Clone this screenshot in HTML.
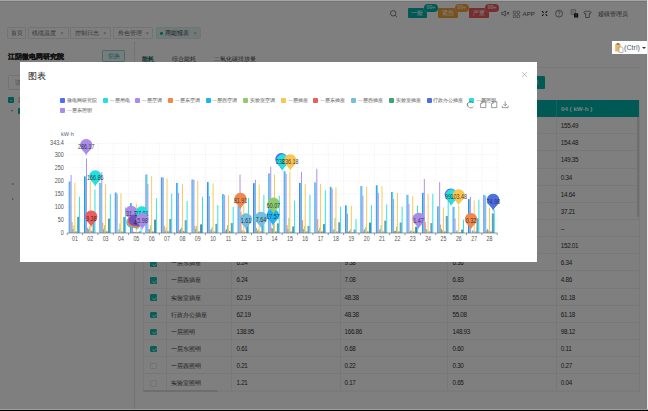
<!DOCTYPE html>
<html><head><meta charset="utf-8">
<style>
*{margin:0;padding:0;box-sizing:border-box}
html,body{width:648px;height:411px;overflow:hidden}
body{position:relative;background:#fff;font-family:"Liberation Sans",sans-serif;color:#333}
.abs{position:absolute}
#hdr{position:absolute;left:0;top:0;width:648px;height:42.9px;background:#fff;border-bottom:0.7px solid #e8e8e8}
.tab{position:absolute;top:27.2px;height:11.7px;border:0.6px solid #e6e6e6;border-radius:1px;font-size:6.1px;line-height:10.6px;color:#6a6a6a;white-space:nowrap;background:#fff}
.tab span{position:absolute;top:0}
.tab b{font-weight:normal;position:absolute;top:0;font-size:5px;color:#999}
.badge{position:absolute;top:8.2px;height:10.2px;width:19.5px;color:#fff;font-size:6.2px;line-height:10.4px;text-align:center;border-radius:1px}
.dot{position:absolute;top:4.4px;height:7.6px;width:14.4px;border-radius:3.8px;color:#fff;font-size:5.2px;line-height:7.2px;text-align:center;box-shadow:0 0 0 0.5px rgba(255,255,255,0.5)}
#left{position:absolute;left:1px;top:42.3px;width:133.8px;height:367px;background:#fff;border-right:0.7px solid #e4e4e4}
#right{position:absolute;left:135.5px;top:42.3px;width:506px;height:367px;background:#fff}
.tr{position:absolute;left:143px;width:496px;height:17.15px;border-bottom:0.6px solid #f0f0f0;font-size:6.2px;line-height:18.4px;color:#333}
.tr .cb{position:absolute;left:7.4px;top:5.85px;width:6.4px;height:6.4px;border:0.6px solid #e6e6e6;border-radius:1px;background:#fff}
.tr .cb.on{background:#12bcae;border-color:#12bcae}
.tr .cb.on::after{content:"";position:absolute;left:1.7px;top:0.6px;width:1.6px;height:3.2px;border:solid rgba(255,255,255,0.6);border-width:0 0.5px 0.5px 0;transform:rotate(45deg)}
.tr .nm{position:absolute;left:27.7px;top:0}
.tr .v{position:absolute;top:0;letter-spacing:-0.3px;font-size:6.3px}
.vl{position:absolute;width:0.6px;background:#f0f0f0}
#mask{position:absolute;left:0;top:0;width:648px;height:411px;background:rgba(0,0,0,0.5)}
#modal{position:absolute;left:20px;top:62px;width:517px;height:200px;background:#fff}
.lg{position:absolute;height:5px;white-space:nowrap;font-size:5.35px;line-height:5.2px;color:#555}
.lg i{position:absolute;left:0;top:0;width:5.2px;height:5px;border-radius:1px}
.lg span{position:absolute;left:6.9px;top:0}
</style></head><body>
<div id="hdr"></div>
<!-- header right -->
<svg class="abs" style="left:389px;top:9px" width="9" height="9" viewBox="0 0 9 9"><circle cx="4.2" cy="4.3" r="2.7" fill="none" stroke="#444" stroke-width="0.7"/><line x1="6.2" y1="6.3" x2="7.9" y2="8" stroke="#444" stroke-width="0.7"/></svg>
<div class="badge" style="left:407.6px;background:#00b3a9">一般</div>
<div class="dot" style="left:423.8px;background:#00b3a9">99+</div>
<div class="badge" style="left:438.3px;background:#f0a23a">紧急</div>
<div class="dot" style="left:454.5px;background:#f0a23a">99+</div>
<div class="badge" style="left:469.2px;background:#ea5a5a">严重</div>
<div class="dot" style="left:485px;background:#ea5a5a">99+</div>
<svg class="abs" style="left:500px;top:9px" width="11" height="9" viewBox="0 0 11 9"><path d="M1.8,3.4h1.5l2,-1.5v5.2l-2,-1.5H1.8z" fill="none" stroke="#555" stroke-width="0.7"/><path d="M6.6,2.9l2.6,2.9M9.2,2.9l-2.6,2.9" stroke="#555" stroke-width="0.7"/></svg>
<svg class="abs" style="left:512px;top:9.5px" width="9" height="8" viewBox="0 0 9 8"><rect x="1.3" y="1.2" width="2.6" height="2.6" rx="0.5" fill="none" stroke="#666" stroke-width="0.6"/><rect x="5.1" y="1.2" width="2.6" height="2.6" rx="0.5" fill="none" stroke="#666" stroke-width="0.6"/><rect x="1.3" y="5" width="2.6" height="2.6" rx="0.5" fill="none" stroke="#666" stroke-width="0.6"/><rect x="5.1" y="5" width="2.6" height="2.6" rx="0.5" fill="none" stroke="#666" stroke-width="0.6"/></svg>
<div class="abs" style="left:522.6px;top:9.2px;font-size:6.2px;line-height:9px;color:#555">APP</div>
<svg class="abs" style="left:540px;top:9px" width="9" height="9" viewBox="0 0 9 9"><path d="M2,2.2l1.6,1.6M7.2,2.2l-1.6,1.6M2,6.9l1.6,-1.6M7.2,6.9l-1.6,-1.6" stroke="#222" stroke-width="1.1"/></svg>
<svg class="abs" style="left:554px;top:9px" width="10" height="10" viewBox="0 0 10 10"><circle cx="5" cy="4.6" r="3.5" fill="none" stroke="#555" stroke-width="0.7"/><path d="M3.9,3.6c0,-1.4 2.2,-1.4 2.2,0c0,0.9 -1.1,0.8 -1.1,1.8" fill="none" stroke="#555" stroke-width="0.6"/><circle cx="5" cy="6.3" r="0.35" fill="#555"/></svg>
<svg class="abs" style="left:570px;top:8.5px" width="9" height="9" viewBox="0 0 9 9"><path d="M1,0.7h4.6v4.6H1z" fill="none" stroke="#777" stroke-width="0.6"/><path d="M1.9,2.2h2.8M1.9,3.6h2" stroke="#888" stroke-width="0.5"/><rect x="4" y="4.3" width="4.2" height="4.2" fill="#1a1a1a"/><path d="M5.2,7.8l0.9,-2.6l0.9,2.6" fill="none" stroke="#999" stroke-width="0.45"/></svg>
<svg class="abs" style="left:583px;top:9.5px" width="9" height="8" viewBox="0 0 9 8"><path d="M3,0.8l-2.2,1.4l1,1.7l0.9,-0.4v4h3.6v-4l0.9,0.4l1,-1.7l-2.2,-1.4c-0.5,1 -2.5,1 -3,0z" fill="none" stroke="#555" stroke-width="0.7"/></svg>
<div class="abs" style="left:597.7px;top:9.2px;font-size:6.1px;line-height:9px;color:#444;white-space:nowrap">超级管理员</div>
<!-- tabs -->
<div class="tab" style="left:6.6px;width:19.7px"><span style="left:3.4px">首页</span></div>
<div class="tab" style="left:28.1px;width:40.8px"><span style="left:3.4px">线缆温度</span><b style="left:31.4px">×</b></div>
<div class="tab" style="left:70.1px;width:40.8px"><span style="left:4.4px">控制日志</span><b style="left:32.2px">×</b></div>
<div class="tab" style="left:112.6px;width:40.8px"><span style="left:4.2px">角色管理</span><b style="left:32.2px">×</b></div>
<div class="tab" style="left:155.7px;width:45.2px;background:#e4f4f2;border-color:#d6eeeb"><i style="position:absolute;left:3.5px;top:4.3px;width:2.9px;height:2.9px;border-radius:50%;background:#00a99e"></i><span style="left:8px;color:#333">用能报表</span><b style="left:37.1px">×</b></div>
<div id="left"></div>
<div id="right"></div>
<div class="abs" style="left:8px;top:51.5px;font-size:7px;line-height:9px;font-weight:bold;color:#222;-webkit-text-stroke:0.15px #222;white-space:nowrap">江阴微电网研究院</div>
<div class="abs" style="left:102px;top:50px;width:23px;height:11.6px;border:0.7px solid #9ad9d3;background:#eef9f8;border-radius:1px;font-size:5.6px;line-height:10.2px;text-align:center;color:#2bb3a8">切换</div>
<div class="abs" style="left:7.5px;top:75.1px;width:118.5px;height:14.7px;border:0.6px solid #e6e6e6;border-radius:1.5px;font-size:6.6px;line-height:14px;color:#aaa;padding-left:6.6px">请输入</div>
<div class="abs" style="left:7.9px;top:97px;width:6.1px;height:6.1px;background:#00b3a9;border-radius:1px"></div><div class="abs" style="left:9.6px;top:99.7px;width:2.8px;height:0.7px;background:rgba(255,255,255,0.6)"></div><div class="abs" style="left:18.3px;top:96px;font-size:6.2px;line-height:8px;color:#333;white-space:nowrap">江阴微电网研究院</div>
<div class="abs" style="left:11px;top:110.3px;width:0;height:0;border-left:1.9px solid transparent;border-right:1.9px solid transparent;border-top:2.3px solid #888"></div>
<div class="abs" style="left:17.9px;top:108.3px;width:6px;height:6px;background:#00b3a9;border-radius:1px"></div>
<div class="abs" style="left:12px;top:183px;width:0;height:0;border-top:1.9px solid transparent;border-bottom:1.9px solid transparent;border-left:2.3px solid #999"></div>
<div class="abs" style="left:12px;top:197.6px;width:0;height:0;border-top:1.9px solid transparent;border-bottom:1.9px solid transparent;border-left:2.3px solid #999"></div>
<!-- right tabs -->
<div class="abs" style="left:142px;top:55px;font-size:6.3px;line-height:8px;font-weight:bold;color:#0d6b63;white-space:nowrap">能耗</div>
<div class="abs" style="left:171.5px;top:55px;font-size:6.3px;line-height:8px;color:#444;white-space:nowrap">综合能耗</div>
<div class="abs" style="left:213.5px;top:55px;font-size:6.3px;line-height:8px;color:#444;white-space:nowrap">二氧化碳排放量</div>
<div class="abs" style="left:520px;top:76px;width:25px;height:13px;background:#00b3a9;border-radius:1px;color:#fff;font-size:6px;line-height:13px;padding-left:7px">导出</div>
<div class="abs" style="left:137px;top:67.2px;width:503px;height:0.7px;background:#ececec"></div>
<!-- table -->
<div class="abs" style="left:143px;top:99.5px;width:496px;height:17.1px;background:#00b3a9"></div>
<div class="abs" style="left:555.6px;top:99.5px;width:0.6px;height:17.1px;background:#33c2ba"></div>
<div class="abs" style="left:561px;top:100px;font-size:6.2px;line-height:17.8px;font-weight:bold;color:#fff;white-space:nowrap">04 ( kW·h )</div>
<div class="tr" style="top:117.10px"><span class="cb on"></span><span class="nm">微电网研究院</span><span class="v" style="left:93.5px"></span><span class="v" style="left:201.5px"></span><span class="v" style="left:309.5px"></span><span class="v" style="left:417.79999999999995px">155.49</span></div><div class="tr" style="top:134.25px"><span class="cb on"></span><span class="nm">一层用电</span><span class="v" style="left:93.5px"></span><span class="v" style="left:201.5px"></span><span class="v" style="left:309.5px"></span><span class="v" style="left:417.79999999999995px">154.48</span></div><div class="tr" style="top:151.40px"><span class="cb on"></span><span class="nm">一层空调</span><span class="v" style="left:93.5px"></span><span class="v" style="left:201.5px"></span><span class="v" style="left:309.5px"></span><span class="v" style="left:417.79999999999995px">149.35</span></div><div class="tr" style="top:168.55px"><span class="cb on"></span><span class="nm">一层东空调</span><span class="v" style="left:93.5px"></span><span class="v" style="left:201.5px"></span><span class="v" style="left:309.5px"></span><span class="v" style="left:417.79999999999995px">0.34</span></div><div class="tr" style="top:185.70px"><span class="cb on"></span><span class="nm">一层西空调</span><span class="v" style="left:93.5px"></span><span class="v" style="left:201.5px"></span><span class="v" style="left:309.5px"></span><span class="v" style="left:417.79999999999995px">14.64</span></div><div class="tr" style="top:202.85px"><span class="cb on"></span><span class="nm">实验室空调</span><span class="v" style="left:93.5px"></span><span class="v" style="left:201.5px"></span><span class="v" style="left:309.5px"></span><span class="v" style="left:417.79999999999995px">37.21</span></div><div class="tr" style="top:220.00px"><span class="cb"></span><span class="nm">二层空调</span><span class="v" style="left:93.5px"></span><span class="v" style="left:201.5px"></span><span class="v" style="left:309.5px"></span><span class="v" style="left:417.79999999999995px">--</span></div><div class="tr" style="top:237.15px"><span class="cb on"></span><span class="nm">一层插座</span><span class="v" style="left:93.5px"></span><span class="v" style="left:201.5px"></span><span class="v" style="left:309.5px"></span><span class="v" style="left:417.79999999999995px">152.01</span></div><div class="tr" style="top:254.30px"><span class="cb on"></span><span class="nm">一层东插座</span><span class="v" style="left:93.5px">6.24</span><span class="v" style="left:201.5px">9.38</span><span class="v" style="left:309.5px">6.36</span><span class="v" style="left:417.79999999999995px">6.34</span></div><div class="tr" style="top:271.45px"><span class="cb on"></span><span class="nm">一层西插座</span><span class="v" style="left:93.5px">6.24</span><span class="v" style="left:201.5px">7.08</span><span class="v" style="left:309.5px">6.83</span><span class="v" style="left:417.79999999999995px">4.86</span></div><div class="tr" style="top:288.60px"><span class="cb on"></span><span class="nm">实验室插座</span><span class="v" style="left:93.5px">62.19</span><span class="v" style="left:201.5px">48.38</span><span class="v" style="left:309.5px">55.08</span><span class="v" style="left:417.79999999999995px">61.18</span></div><div class="tr" style="top:305.75px"><span class="cb on"></span><span class="nm">行政办公插座</span><span class="v" style="left:93.5px">62.19</span><span class="v" style="left:201.5px">48.38</span><span class="v" style="left:309.5px">55.08</span><span class="v" style="left:417.79999999999995px">61.18</span></div><div class="tr" style="top:322.90px"><span class="cb on"></span><span class="nm">一层照明</span><span class="v" style="left:93.5px">138.95</span><span class="v" style="left:201.5px">166.86</span><span class="v" style="left:309.5px">148.93</span><span class="v" style="left:417.79999999999995px">98.12</span></div><div class="tr" style="top:340.05px"><span class="cb on"></span><span class="nm">一层东照明</span><span class="v" style="left:93.5px">0.61</span><span class="v" style="left:201.5px">0.68</span><span class="v" style="left:309.5px">0.60</span><span class="v" style="left:417.79999999999995px">0.11</span></div><div class="tr" style="top:357.20px"><span class="cb"></span><span class="nm">一层西照明</span><span class="v" style="left:93.5px">0.21</span><span class="v" style="left:201.5px">0.22</span><span class="v" style="left:309.5px">0.30</span><span class="v" style="left:417.79999999999995px">0.27</span></div><div class="tr" style="top:374.35px"><span class="cb"></span><span class="nm">实验室照明</span><span class="v" style="left:93.5px">1.21</span><span class="v" style="left:201.5px">0.17</span><span class="v" style="left:309.5px">0.65</span><span class="v" style="left:417.79999999999995px">0.04</span></div>
<div class="vl" style="left:142.6px;top:116.5px;height:274px"></div>
<div class="vl" style="left:166.3px;top:116.5px;height:274px"></div>
<div class="vl" style="left:231.2px;top:116.5px;height:274px"></div>
<div class="vl" style="left:339.6px;top:116.5px;height:274px"></div>
<div class="vl" style="left:447px;top:116.5px;height:274px"></div>
<div class="vl" style="left:556px;top:116.5px;height:274px"></div>
<div class="vl" style="left:639px;top:100px;height:292px"></div>
<div class="abs" style="left:637px;top:117px;width:2px;height:100px;background:#ddd"></div>
<div class="abs" style="left:143px;top:389.6px;width:496px;height:2.2px;background:#f6f6f6"></div>
<div class="abs" style="left:142.5px;top:389.6px;width:75.5px;height:2.2px;background:#dcdcdc;border-radius:1px"></div>
<div id="mask"></div>
<div id="modal">
<div class="abs" style="left:8.3px;top:9px;font-size:8.5px;line-height:10px;color:#222;white-space:nowrap">图表</div>
<svg class="abs" style="left:500px;top:8px" width="9" height="9" viewBox="500 8 9 9"><path d="M502.1,10.1l4.8,4.8M506.9,10.1l-4.8,4.8" stroke="#8a8a8a" stroke-width="0.55"/></svg>
</div>
<svg class="abs" style="left:0;top:0" width="648" height="411" viewBox="0 0 648 411" font-family="Liberation Sans, sans-serif">
<line x1="67.2" y1="143.40" x2="497.2" y2="143.40" stroke="#e9e9e9" stroke-width="0.6" stroke-dasharray="1.3,1.3"/>
<line x1="67.2" y1="154.72" x2="497.2" y2="154.72" stroke="#e9e9e9" stroke-width="0.6" stroke-dasharray="1.3,1.3"/>
<line x1="67.2" y1="167.77" x2="497.2" y2="167.77" stroke="#e9e9e9" stroke-width="0.6" stroke-dasharray="1.3,1.3"/>
<line x1="67.2" y1="180.82" x2="497.2" y2="180.82" stroke="#e9e9e9" stroke-width="0.6" stroke-dasharray="1.3,1.3"/>
<line x1="67.2" y1="193.86" x2="497.2" y2="193.86" stroke="#e9e9e9" stroke-width="0.6" stroke-dasharray="1.3,1.3"/>
<line x1="67.2" y1="206.91" x2="497.2" y2="206.91" stroke="#e9e9e9" stroke-width="0.6" stroke-dasharray="1.3,1.3"/>
<line x1="67.2" y1="219.95" x2="497.2" y2="219.95" stroke="#e9e9e9" stroke-width="0.6" stroke-dasharray="1.3,1.3"/>
<line x1="82.56" y1="143.4" x2="82.56" y2="233.0" stroke="#e9e9e9" stroke-width="0.6" stroke-dasharray="1.3,1.3"/>
<line x1="97.91" y1="143.4" x2="97.91" y2="233.0" stroke="#e9e9e9" stroke-width="0.6" stroke-dasharray="1.3,1.3"/>
<line x1="113.27" y1="143.4" x2="113.27" y2="233.0" stroke="#e9e9e9" stroke-width="0.6" stroke-dasharray="1.3,1.3"/>
<line x1="128.63" y1="143.4" x2="128.63" y2="233.0" stroke="#e9e9e9" stroke-width="0.6" stroke-dasharray="1.3,1.3"/>
<line x1="143.99" y1="143.4" x2="143.99" y2="233.0" stroke="#e9e9e9" stroke-width="0.6" stroke-dasharray="1.3,1.3"/>
<line x1="159.34" y1="143.4" x2="159.34" y2="233.0" stroke="#e9e9e9" stroke-width="0.6" stroke-dasharray="1.3,1.3"/>
<line x1="174.70" y1="143.4" x2="174.70" y2="233.0" stroke="#e9e9e9" stroke-width="0.6" stroke-dasharray="1.3,1.3"/>
<line x1="190.06" y1="143.4" x2="190.06" y2="233.0" stroke="#e9e9e9" stroke-width="0.6" stroke-dasharray="1.3,1.3"/>
<line x1="205.41" y1="143.4" x2="205.41" y2="233.0" stroke="#e9e9e9" stroke-width="0.6" stroke-dasharray="1.3,1.3"/>
<line x1="220.77" y1="143.4" x2="220.77" y2="233.0" stroke="#e9e9e9" stroke-width="0.6" stroke-dasharray="1.3,1.3"/>
<line x1="236.13" y1="143.4" x2="236.13" y2="233.0" stroke="#e9e9e9" stroke-width="0.6" stroke-dasharray="1.3,1.3"/>
<line x1="251.49" y1="143.4" x2="251.49" y2="233.0" stroke="#e9e9e9" stroke-width="0.6" stroke-dasharray="1.3,1.3"/>
<line x1="266.84" y1="143.4" x2="266.84" y2="233.0" stroke="#e9e9e9" stroke-width="0.6" stroke-dasharray="1.3,1.3"/>
<line x1="282.20" y1="143.4" x2="282.20" y2="233.0" stroke="#e9e9e9" stroke-width="0.6" stroke-dasharray="1.3,1.3"/>
<line x1="297.56" y1="143.4" x2="297.56" y2="233.0" stroke="#e9e9e9" stroke-width="0.6" stroke-dasharray="1.3,1.3"/>
<line x1="312.91" y1="143.4" x2="312.91" y2="233.0" stroke="#e9e9e9" stroke-width="0.6" stroke-dasharray="1.3,1.3"/>
<line x1="328.27" y1="143.4" x2="328.27" y2="233.0" stroke="#e9e9e9" stroke-width="0.6" stroke-dasharray="1.3,1.3"/>
<line x1="343.63" y1="143.4" x2="343.63" y2="233.0" stroke="#e9e9e9" stroke-width="0.6" stroke-dasharray="1.3,1.3"/>
<line x1="358.99" y1="143.4" x2="358.99" y2="233.0" stroke="#e9e9e9" stroke-width="0.6" stroke-dasharray="1.3,1.3"/>
<line x1="374.34" y1="143.4" x2="374.34" y2="233.0" stroke="#e9e9e9" stroke-width="0.6" stroke-dasharray="1.3,1.3"/>
<line x1="389.70" y1="143.4" x2="389.70" y2="233.0" stroke="#e9e9e9" stroke-width="0.6" stroke-dasharray="1.3,1.3"/>
<line x1="405.06" y1="143.4" x2="405.06" y2="233.0" stroke="#e9e9e9" stroke-width="0.6" stroke-dasharray="1.3,1.3"/>
<line x1="420.41" y1="143.4" x2="420.41" y2="233.0" stroke="#e9e9e9" stroke-width="0.6" stroke-dasharray="1.3,1.3"/>
<line x1="435.77" y1="143.4" x2="435.77" y2="233.0" stroke="#e9e9e9" stroke-width="0.6" stroke-dasharray="1.3,1.3"/>
<line x1="451.13" y1="143.4" x2="451.13" y2="233.0" stroke="#e9e9e9" stroke-width="0.6" stroke-dasharray="1.3,1.3"/>
<line x1="466.49" y1="143.4" x2="466.49" y2="233.0" stroke="#e9e9e9" stroke-width="0.6" stroke-dasharray="1.3,1.3"/>
<line x1="481.84" y1="143.4" x2="481.84" y2="233.0" stroke="#e9e9e9" stroke-width="0.6" stroke-dasharray="1.3,1.3"/>
<line x1="497.20" y1="143.4" x2="497.20" y2="233.0" stroke="#e9e9e9" stroke-width="0.6" stroke-dasharray="1.3,1.3"/>
<rect x="68.74" y="181.60" width="0.945" height="51.40" fill="#4b6ef5"/>
<rect x="69.68" y="181.60" width="0.945" height="51.40" fill="#22dede"/>
<rect x="70.63" y="175.08" width="0.945" height="57.92" fill="#a98bea"/>
<rect x="71.57" y="222.04" width="0.945" height="10.96" fill="#f0884e"/>
<rect x="72.52" y="229.09" width="0.945" height="3.91" fill="#1fb2f2"/>
<rect x="73.46" y="225.43" width="0.945" height="7.57" fill="#8fcc6e"/>
<rect x="74.41" y="182.90" width="0.945" height="50.10" fill="#fbc552"/>
<rect x="75.35" y="231.37" width="0.945" height="1.63" fill="#ec5d5d"/>
<rect x="76.30" y="231.37" width="0.945" height="1.63" fill="#73bde0"/>
<rect x="77.24" y="216.77" width="0.945" height="16.23" fill="#3ba56f"/>
<rect x="78.19" y="216.77" width="0.945" height="16.23" fill="#4e6de8"/>
<rect x="79.13" y="196.75" width="0.945" height="36.25" fill="#26e0e0"/>
<rect x="80.08" y="232.84" width="0.945" height="0.16" fill="#a98bea"/>
<rect x="84.09" y="176.38" width="0.945" height="56.62" fill="#4b6ef5"/>
<rect x="85.04" y="176.38" width="0.945" height="56.62" fill="#22dede"/>
<rect x="85.98" y="158.33" width="0.945" height="74.67" fill="#a98bea"/>
<rect x="86.93" y="227.78" width="0.945" height="5.22" fill="#f0884e"/>
<rect x="87.87" y="229.09" width="0.945" height="3.91" fill="#1fb2f2"/>
<rect x="88.82" y="226.48" width="0.945" height="6.52" fill="#8fcc6e"/>
<rect x="89.76" y="181.08" width="0.945" height="51.92" fill="#fbc552"/>
<rect x="90.71" y="230.55" width="0.945" height="2.45" fill="#ec5d5d"/>
<rect x="91.65" y="231.15" width="0.945" height="1.85" fill="#73bde0"/>
<rect x="92.60" y="220.38" width="0.945" height="12.62" fill="#3ba56f"/>
<rect x="93.54" y="220.38" width="0.945" height="12.62" fill="#4e6de8"/>
<rect x="94.49" y="189.46" width="0.945" height="43.54" fill="#26e0e0"/>
<rect x="95.43" y="232.82" width="0.945" height="0.18" fill="#a98bea"/>
<rect x="99.45" y="182.90" width="0.945" height="50.10" fill="#4b6ef5"/>
<rect x="100.40" y="182.90" width="0.945" height="50.10" fill="#22dede"/>
<rect x="101.34" y="172.21" width="0.945" height="60.79" fill="#a98bea"/>
<rect x="102.29" y="222.56" width="0.945" height="10.44" fill="#f0884e"/>
<rect x="103.23" y="229.09" width="0.945" height="3.91" fill="#1fb2f2"/>
<rect x="104.18" y="225.17" width="0.945" height="7.83" fill="#8fcc6e"/>
<rect x="105.12" y="184.21" width="0.945" height="48.79" fill="#fbc552"/>
<rect x="106.07" y="231.34" width="0.945" height="1.66" fill="#ec5d5d"/>
<rect x="107.01" y="231.22" width="0.945" height="1.78" fill="#73bde0"/>
<rect x="107.96" y="218.63" width="0.945" height="14.37" fill="#3ba56f"/>
<rect x="108.90" y="218.63" width="0.945" height="14.37" fill="#4e6de8"/>
<rect x="109.85" y="194.14" width="0.945" height="38.86" fill="#26e0e0"/>
<rect x="110.79" y="232.84" width="0.945" height="0.16" fill="#a98bea"/>
<rect x="114.81" y="192.56" width="0.945" height="40.44" fill="#4b6ef5"/>
<rect x="115.75" y="192.56" width="0.945" height="40.44" fill="#22dede"/>
<rect x="116.70" y="194.03" width="0.945" height="38.97" fill="#a98bea"/>
<rect x="117.64" y="232.91" width="0.945" height="0.09" fill="#f0884e"/>
<rect x="118.59" y="229.18" width="0.945" height="3.82" fill="#1fb2f2"/>
<rect x="119.53" y="223.29" width="0.945" height="9.71" fill="#8fcc6e"/>
<rect x="120.48" y="193.34" width="0.945" height="39.66" fill="#fbc552"/>
<rect x="121.42" y="231.35" width="0.945" height="1.65" fill="#ec5d5d"/>
<rect x="122.37" y="231.73" width="0.945" height="1.27" fill="#73bde0"/>
<rect x="123.31" y="217.04" width="0.945" height="15.96" fill="#3ba56f"/>
<rect x="124.26" y="217.04" width="0.945" height="15.96" fill="#4e6de8"/>
<rect x="125.20" y="207.40" width="0.945" height="25.60" fill="#26e0e0"/>
<rect x="126.15" y="232.97" width="0.945" height="0.03" fill="#a98bea"/>
<rect x="130.16" y="203.26" width="0.945" height="29.74" fill="#4b6ef5"/>
<rect x="131.11" y="203.26" width="0.945" height="29.74" fill="#22dede"/>
<rect x="132.05" y="222.56" width="0.945" height="10.44" fill="#a98bea"/>
<rect x="133.00" y="231.70" width="0.945" height="1.30" fill="#f0884e"/>
<rect x="133.94" y="231.96" width="0.945" height="1.04" fill="#1fb2f2"/>
<rect x="134.89" y="231.96" width="0.945" height="1.04" fill="#8fcc6e"/>
<rect x="135.83" y="203.52" width="0.945" height="29.48" fill="#fbc552"/>
<rect x="136.78" y="232.22" width="0.945" height="0.78" fill="#ec5d5d"/>
<rect x="137.72" y="232.22" width="0.945" height="0.78" fill="#73bde0"/>
<rect x="138.67" y="231.43" width="0.945" height="1.57" fill="#3ba56f"/>
<rect x="139.61" y="231.43" width="0.945" height="1.57" fill="#4e6de8"/>
<rect x="140.56" y="225.95" width="0.945" height="7.05" fill="#26e0e0"/>
<rect x="141.50" y="232.92" width="0.945" height="0.08" fill="#a98bea"/>
<rect x="145.52" y="174.55" width="0.945" height="58.45" fill="#4b6ef5"/>
<rect x="146.47" y="174.55" width="0.945" height="58.45" fill="#22dede"/>
<rect x="147.41" y="183.95" width="0.945" height="49.05" fill="#a98bea"/>
<rect x="148.36" y="229.09" width="0.945" height="3.91" fill="#f0884e"/>
<rect x="149.30" y="229.09" width="0.945" height="3.91" fill="#1fb2f2"/>
<rect x="150.25" y="225.17" width="0.945" height="7.83" fill="#8fcc6e"/>
<rect x="151.19" y="176.12" width="0.945" height="56.88" fill="#fbc552"/>
<rect x="152.14" y="231.43" width="0.945" height="1.57" fill="#ec5d5d"/>
<rect x="153.08" y="231.43" width="0.945" height="1.57" fill="#73bde0"/>
<rect x="154.03" y="219.69" width="0.945" height="13.31" fill="#3ba56f"/>
<rect x="154.97" y="219.69" width="0.945" height="13.31" fill="#4e6de8"/>
<rect x="155.92" y="198.30" width="0.945" height="34.70" fill="#26e0e0"/>
<rect x="156.86" y="232.87" width="0.945" height="0.13" fill="#a98bea"/>
<rect x="160.88" y="177.42" width="0.945" height="55.58" fill="#4b6ef5"/>
<rect x="161.82" y="177.42" width="0.945" height="55.58" fill="#22dede"/>
<rect x="162.77" y="177.42" width="0.945" height="55.58" fill="#a98bea"/>
<rect x="163.71" y="225.69" width="0.945" height="7.31" fill="#f0884e"/>
<rect x="164.66" y="230.39" width="0.945" height="2.61" fill="#1fb2f2"/>
<rect x="165.60" y="227.52" width="0.945" height="5.48" fill="#8fcc6e"/>
<rect x="166.55" y="178.47" width="0.945" height="54.53" fill="#fbc552"/>
<rect x="167.49" y="230.91" width="0.945" height="2.09" fill="#ec5d5d"/>
<rect x="168.44" y="231.43" width="0.945" height="1.57" fill="#73bde0"/>
<rect x="169.38" y="218.91" width="0.945" height="14.09" fill="#3ba56f"/>
<rect x="170.33" y="218.91" width="0.945" height="14.09" fill="#4e6de8"/>
<rect x="171.27" y="193.60" width="0.945" height="39.40" fill="#26e0e0"/>
<rect x="172.22" y="232.87" width="0.945" height="0.13" fill="#a98bea"/>
<rect x="176.24" y="182.90" width="0.945" height="50.10" fill="#4b6ef5"/>
<rect x="177.18" y="182.90" width="0.945" height="50.10" fill="#22dede"/>
<rect x="178.13" y="192.82" width="0.945" height="40.18" fill="#a98bea"/>
<rect x="179.07" y="230.39" width="0.945" height="2.61" fill="#f0884e"/>
<rect x="180.02" y="229.09" width="0.945" height="3.91" fill="#1fb2f2"/>
<rect x="180.96" y="227.52" width="0.945" height="5.48" fill="#8fcc6e"/>
<rect x="181.91" y="183.95" width="0.945" height="49.05" fill="#fbc552"/>
<rect x="182.85" y="230.91" width="0.945" height="2.09" fill="#ec5d5d"/>
<rect x="183.80" y="231.43" width="0.945" height="1.57" fill="#73bde0"/>
<rect x="184.74" y="220.21" width="0.945" height="12.79" fill="#3ba56f"/>
<rect x="185.69" y="220.21" width="0.945" height="12.79" fill="#4e6de8"/>
<rect x="186.63" y="200.91" width="0.945" height="32.09" fill="#26e0e0"/>
<rect x="187.58" y="232.87" width="0.945" height="0.13" fill="#a98bea"/>
<rect x="191.59" y="179.51" width="0.945" height="53.49" fill="#4b6ef5"/>
<rect x="192.54" y="179.51" width="0.945" height="53.49" fill="#22dede"/>
<rect x="193.48" y="179.77" width="0.945" height="53.23" fill="#a98bea"/>
<rect x="194.43" y="225.96" width="0.945" height="7.04" fill="#f0884e"/>
<rect x="195.37" y="228.83" width="0.945" height="4.17" fill="#1fb2f2"/>
<rect x="196.32" y="225.96" width="0.945" height="7.04" fill="#8fcc6e"/>
<rect x="197.26" y="180.82" width="0.945" height="52.18" fill="#fbc552"/>
<rect x="198.21" y="231.43" width="0.945" height="1.57" fill="#ec5d5d"/>
<rect x="199.15" y="231.43" width="0.945" height="1.57" fill="#73bde0"/>
<rect x="200.10" y="224.39" width="0.945" height="8.61" fill="#3ba56f"/>
<rect x="201.04" y="224.39" width="0.945" height="8.61" fill="#4e6de8"/>
<rect x="201.99" y="196.73" width="0.945" height="36.27" fill="#26e0e0"/>
<rect x="202.93" y="232.87" width="0.945" height="0.13" fill="#a98bea"/>
<rect x="206.95" y="182.12" width="0.945" height="50.88" fill="#4b6ef5"/>
<rect x="207.90" y="182.12" width="0.945" height="50.88" fill="#22dede"/>
<rect x="208.84" y="195.95" width="0.945" height="37.05" fill="#a98bea"/>
<rect x="209.79" y="230.39" width="0.945" height="2.61" fill="#f0884e"/>
<rect x="210.73" y="229.09" width="0.945" height="3.91" fill="#1fb2f2"/>
<rect x="211.68" y="227.26" width="0.945" height="5.74" fill="#8fcc6e"/>
<rect x="212.62" y="183.43" width="0.945" height="49.57" fill="#fbc552"/>
<rect x="213.57" y="231.43" width="0.945" height="1.57" fill="#ec5d5d"/>
<rect x="214.51" y="231.43" width="0.945" height="1.57" fill="#73bde0"/>
<rect x="215.46" y="223.87" width="0.945" height="9.13" fill="#3ba56f"/>
<rect x="216.40" y="223.87" width="0.945" height="9.13" fill="#4e6de8"/>
<rect x="217.35" y="205.08" width="0.945" height="27.92" fill="#26e0e0"/>
<rect x="218.29" y="232.87" width="0.945" height="0.13" fill="#a98bea"/>
<rect x="222.31" y="194.12" width="0.945" height="38.88" fill="#4b6ef5"/>
<rect x="223.25" y="194.12" width="0.945" height="38.88" fill="#22dede"/>
<rect x="224.20" y="195.17" width="0.945" height="37.83" fill="#a98bea"/>
<rect x="225.14" y="230.39" width="0.945" height="2.61" fill="#f0884e"/>
<rect x="226.09" y="229.09" width="0.945" height="3.91" fill="#1fb2f2"/>
<rect x="227.03" y="225.17" width="0.945" height="7.83" fill="#8fcc6e"/>
<rect x="227.98" y="195.17" width="0.945" height="37.83" fill="#fbc552"/>
<rect x="228.92" y="230.91" width="0.945" height="2.09" fill="#ec5d5d"/>
<rect x="229.87" y="231.43" width="0.945" height="1.57" fill="#73bde0"/>
<rect x="230.81" y="223.09" width="0.945" height="9.91" fill="#3ba56f"/>
<rect x="231.76" y="223.09" width="0.945" height="9.91" fill="#4e6de8"/>
<rect x="232.70" y="206.91" width="0.945" height="26.09" fill="#26e0e0"/>
<rect x="233.65" y="232.87" width="0.945" height="0.13" fill="#a98bea"/>
<rect x="237.66" y="205.60" width="0.945" height="27.40" fill="#4b6ef5"/>
<rect x="238.61" y="205.60" width="0.945" height="27.40" fill="#22dede"/>
<rect x="239.55" y="174.55" width="0.945" height="58.45" fill="#a98bea"/>
<rect x="240.50" y="211.63" width="0.945" height="21.37" fill="#f0884e"/>
<rect x="241.44" y="230.39" width="0.945" height="2.61" fill="#1fb2f2"/>
<rect x="242.39" y="230.39" width="0.945" height="2.61" fill="#8fcc6e"/>
<rect x="243.33" y="205.60" width="0.945" height="27.40" fill="#fbc552"/>
<rect x="244.28" y="231.43" width="0.945" height="1.57" fill="#ec5d5d"/>
<rect x="245.22" y="232.58" width="0.945" height="0.42" fill="#73bde0"/>
<rect x="246.17" y="225.17" width="0.945" height="7.83" fill="#3ba56f"/>
<rect x="247.11" y="225.17" width="0.945" height="7.83" fill="#4e6de8"/>
<rect x="248.06" y="198.04" width="0.945" height="34.96" fill="#26e0e0"/>
<rect x="249.00" y="232.87" width="0.945" height="0.13" fill="#a98bea"/>
<rect x="253.02" y="183.16" width="0.945" height="49.84" fill="#4b6ef5"/>
<rect x="253.97" y="183.16" width="0.945" height="49.84" fill="#22dede"/>
<rect x="254.91" y="179.77" width="0.945" height="53.23" fill="#a98bea"/>
<rect x="255.86" y="227.78" width="0.945" height="5.22" fill="#f0884e"/>
<rect x="256.80" y="230.39" width="0.945" height="2.61" fill="#1fb2f2"/>
<rect x="257.75" y="229.09" width="0.945" height="3.91" fill="#8fcc6e"/>
<rect x="258.69" y="184.47" width="0.945" height="48.53" fill="#fbc552"/>
<rect x="259.64" y="231.43" width="0.945" height="1.57" fill="#ec5d5d"/>
<rect x="260.58" y="231.01" width="0.945" height="1.99" fill="#73bde0"/>
<rect x="261.53" y="222.56" width="0.945" height="10.44" fill="#3ba56f"/>
<rect x="262.47" y="222.56" width="0.945" height="10.44" fill="#4e6de8"/>
<rect x="263.42" y="194.91" width="0.945" height="38.09" fill="#26e0e0"/>
<rect x="264.36" y="232.87" width="0.945" height="0.13" fill="#a98bea"/>
<rect x="268.38" y="173.51" width="0.945" height="59.49" fill="#4b6ef5"/>
<rect x="269.32" y="173.51" width="0.945" height="59.49" fill="#22dede"/>
<rect x="270.27" y="166.73" width="0.945" height="66.27" fill="#a98bea"/>
<rect x="271.21" y="227.78" width="0.945" height="5.22" fill="#f0884e"/>
<rect x="272.16" y="228.42" width="0.945" height="4.58" fill="#1fb2f2"/>
<rect x="273.10" y="217.33" width="0.945" height="15.67" fill="#8fcc6e"/>
<rect x="274.05" y="174.55" width="0.945" height="58.45" fill="#fbc552"/>
<rect x="274.99" y="231.43" width="0.945" height="1.57" fill="#ec5d5d"/>
<rect x="275.94" y="231.43" width="0.945" height="1.57" fill="#73bde0"/>
<rect x="276.88" y="223.35" width="0.945" height="9.65" fill="#3ba56f"/>
<rect x="277.83" y="223.35" width="0.945" height="9.65" fill="#4e6de8"/>
<rect x="278.77" y="195.69" width="0.945" height="37.31" fill="#26e0e0"/>
<rect x="279.72" y="232.87" width="0.945" height="0.13" fill="#a98bea"/>
<rect x="283.74" y="171.16" width="0.945" height="61.84" fill="#4b6ef5"/>
<rect x="284.68" y="171.16" width="0.945" height="61.84" fill="#22dede"/>
<rect x="285.63" y="174.03" width="0.945" height="58.97" fill="#a98bea"/>
<rect x="286.57" y="225.17" width="0.945" height="7.83" fill="#f0884e"/>
<rect x="287.52" y="229.09" width="0.945" height="3.91" fill="#1fb2f2"/>
<rect x="288.46" y="217.87" width="0.945" height="15.13" fill="#8fcc6e"/>
<rect x="289.41" y="171.68" width="0.945" height="61.32" fill="#fbc552"/>
<rect x="290.35" y="231.43" width="0.945" height="1.57" fill="#ec5d5d"/>
<rect x="291.30" y="231.43" width="0.945" height="1.57" fill="#73bde0"/>
<rect x="292.24" y="226.48" width="0.945" height="6.52" fill="#3ba56f"/>
<rect x="293.19" y="226.48" width="0.945" height="6.52" fill="#4e6de8"/>
<rect x="294.13" y="200.65" width="0.945" height="32.35" fill="#26e0e0"/>
<rect x="295.08" y="232.87" width="0.945" height="0.13" fill="#a98bea"/>
<rect x="299.09" y="182.90" width="0.945" height="50.10" fill="#4b6ef5"/>
<rect x="300.04" y="182.90" width="0.945" height="50.10" fill="#22dede"/>
<rect x="300.98" y="171.94" width="0.945" height="61.06" fill="#a98bea"/>
<rect x="301.93" y="220.21" width="0.945" height="12.79" fill="#f0884e"/>
<rect x="302.87" y="229.09" width="0.945" height="3.91" fill="#1fb2f2"/>
<rect x="303.82" y="225.96" width="0.945" height="7.04" fill="#8fcc6e"/>
<rect x="304.76" y="183.95" width="0.945" height="49.05" fill="#fbc552"/>
<rect x="305.71" y="231.43" width="0.945" height="1.57" fill="#ec5d5d"/>
<rect x="306.65" y="231.43" width="0.945" height="1.57" fill="#73bde0"/>
<rect x="307.60" y="225.96" width="0.945" height="7.04" fill="#3ba56f"/>
<rect x="308.54" y="225.96" width="0.945" height="7.04" fill="#4e6de8"/>
<rect x="309.49" y="194.91" width="0.945" height="38.09" fill="#26e0e0"/>
<rect x="310.43" y="232.87" width="0.945" height="0.13" fill="#a98bea"/>
<rect x="314.45" y="182.38" width="0.945" height="50.62" fill="#4b6ef5"/>
<rect x="315.40" y="182.38" width="0.945" height="50.62" fill="#22dede"/>
<rect x="316.34" y="168.81" width="0.945" height="64.19" fill="#a98bea"/>
<rect x="317.29" y="219.17" width="0.945" height="13.83" fill="#f0884e"/>
<rect x="318.23" y="230.39" width="0.945" height="2.61" fill="#1fb2f2"/>
<rect x="319.18" y="227.78" width="0.945" height="5.22" fill="#8fcc6e"/>
<rect x="320.12" y="183.95" width="0.945" height="49.05" fill="#fbc552"/>
<rect x="321.07" y="231.43" width="0.945" height="1.57" fill="#ec5d5d"/>
<rect x="322.01" y="231.43" width="0.945" height="1.57" fill="#73bde0"/>
<rect x="322.96" y="224.13" width="0.945" height="8.87" fill="#3ba56f"/>
<rect x="323.90" y="224.13" width="0.945" height="8.87" fill="#4e6de8"/>
<rect x="324.85" y="190.21" width="0.945" height="42.79" fill="#26e0e0"/>
<rect x="325.79" y="232.87" width="0.945" height="0.13" fill="#a98bea"/>
<rect x="329.81" y="186.82" width="0.945" height="46.18" fill="#4b6ef5"/>
<rect x="330.75" y="186.82" width="0.945" height="46.18" fill="#22dede"/>
<rect x="331.70" y="188.64" width="0.945" height="44.36" fill="#a98bea"/>
<rect x="332.64" y="230.39" width="0.945" height="2.61" fill="#f0884e"/>
<rect x="333.59" y="229.09" width="0.945" height="3.91" fill="#1fb2f2"/>
<rect x="334.53" y="217.87" width="0.945" height="15.13" fill="#8fcc6e"/>
<rect x="335.48" y="187.34" width="0.945" height="45.66" fill="#fbc552"/>
<rect x="336.42" y="231.43" width="0.945" height="1.57" fill="#ec5d5d"/>
<rect x="337.37" y="231.43" width="0.945" height="1.57" fill="#73bde0"/>
<rect x="338.31" y="222.30" width="0.945" height="10.70" fill="#3ba56f"/>
<rect x="339.26" y="222.30" width="0.945" height="10.70" fill="#4e6de8"/>
<rect x="340.20" y="206.91" width="0.945" height="26.09" fill="#26e0e0"/>
<rect x="341.15" y="232.87" width="0.945" height="0.13" fill="#a98bea"/>
<rect x="345.16" y="205.34" width="0.945" height="27.66" fill="#4b6ef5"/>
<rect x="346.11" y="205.34" width="0.945" height="27.66" fill="#22dede"/>
<rect x="347.05" y="213.69" width="0.945" height="19.31" fill="#a98bea"/>
<rect x="348.00" y="231.70" width="0.945" height="1.30" fill="#f0884e"/>
<rect x="348.94" y="230.91" width="0.945" height="2.09" fill="#1fb2f2"/>
<rect x="349.89" y="229.09" width="0.945" height="3.91" fill="#8fcc6e"/>
<rect x="350.83" y="205.86" width="0.945" height="27.14" fill="#fbc552"/>
<rect x="351.78" y="232.22" width="0.945" height="0.78" fill="#ec5d5d"/>
<rect x="352.72" y="232.22" width="0.945" height="0.78" fill="#73bde0"/>
<rect x="353.67" y="229.61" width="0.945" height="3.39" fill="#3ba56f"/>
<rect x="354.61" y="229.61" width="0.945" height="3.39" fill="#4e6de8"/>
<rect x="355.56" y="219.17" width="0.945" height="13.83" fill="#26e0e0"/>
<rect x="356.50" y="232.87" width="0.945" height="0.13" fill="#a98bea"/>
<rect x="360.52" y="186.03" width="0.945" height="46.97" fill="#4b6ef5"/>
<rect x="361.47" y="186.03" width="0.945" height="46.97" fill="#22dede"/>
<rect x="362.41" y="195.69" width="0.945" height="37.31" fill="#a98bea"/>
<rect x="363.36" y="230.39" width="0.945" height="2.61" fill="#f0884e"/>
<rect x="364.30" y="229.09" width="0.945" height="3.91" fill="#1fb2f2"/>
<rect x="365.25" y="227.00" width="0.945" height="6.00" fill="#8fcc6e"/>
<rect x="366.19" y="186.82" width="0.945" height="46.18" fill="#fbc552"/>
<rect x="367.14" y="231.43" width="0.945" height="1.57" fill="#ec5d5d"/>
<rect x="368.08" y="231.43" width="0.945" height="1.57" fill="#73bde0"/>
<rect x="369.03" y="222.56" width="0.945" height="10.44" fill="#3ba56f"/>
<rect x="369.97" y="222.56" width="0.945" height="10.44" fill="#4e6de8"/>
<rect x="370.92" y="205.08" width="0.945" height="27.92" fill="#26e0e0"/>
<rect x="371.86" y="232.87" width="0.945" height="0.13" fill="#a98bea"/>
<rect x="375.88" y="185.25" width="0.945" height="47.75" fill="#4b6ef5"/>
<rect x="376.82" y="185.25" width="0.945" height="47.75" fill="#22dede"/>
<rect x="377.77" y="192.82" width="0.945" height="40.18" fill="#a98bea"/>
<rect x="378.71" y="230.39" width="0.945" height="2.61" fill="#f0884e"/>
<rect x="379.66" y="229.09" width="0.945" height="3.91" fill="#1fb2f2"/>
<rect x="380.60" y="225.17" width="0.945" height="7.83" fill="#8fcc6e"/>
<rect x="381.55" y="186.30" width="0.945" height="46.70" fill="#fbc552"/>
<rect x="382.49" y="231.43" width="0.945" height="1.57" fill="#ec5d5d"/>
<rect x="383.44" y="231.43" width="0.945" height="1.57" fill="#73bde0"/>
<rect x="384.38" y="220.74" width="0.945" height="12.26" fill="#3ba56f"/>
<rect x="385.33" y="220.74" width="0.945" height="12.26" fill="#4e6de8"/>
<rect x="386.27" y="204.30" width="0.945" height="28.70" fill="#26e0e0"/>
<rect x="387.22" y="232.87" width="0.945" height="0.13" fill="#a98bea"/>
<rect x="391.24" y="192.04" width="0.945" height="40.96" fill="#4b6ef5"/>
<rect x="392.18" y="192.04" width="0.945" height="40.96" fill="#22dede"/>
<rect x="393.13" y="199.08" width="0.945" height="33.92" fill="#a98bea"/>
<rect x="394.07" y="230.91" width="0.945" height="2.09" fill="#f0884e"/>
<rect x="395.02" y="230.91" width="0.945" height="2.09" fill="#1fb2f2"/>
<rect x="395.96" y="226.74" width="0.945" height="6.26" fill="#8fcc6e"/>
<rect x="396.91" y="192.82" width="0.945" height="40.18" fill="#fbc552"/>
<rect x="397.85" y="231.43" width="0.945" height="1.57" fill="#ec5d5d"/>
<rect x="398.80" y="231.43" width="0.945" height="1.57" fill="#73bde0"/>
<rect x="399.74" y="222.56" width="0.945" height="10.44" fill="#3ba56f"/>
<rect x="400.69" y="222.56" width="0.945" height="10.44" fill="#4e6de8"/>
<rect x="401.63" y="206.91" width="0.945" height="26.09" fill="#26e0e0"/>
<rect x="402.58" y="232.87" width="0.945" height="0.13" fill="#a98bea"/>
<rect x="406.59" y="194.91" width="0.945" height="38.09" fill="#4b6ef5"/>
<rect x="407.54" y="194.91" width="0.945" height="38.09" fill="#22dede"/>
<rect x="408.48" y="203.78" width="0.945" height="29.22" fill="#a98bea"/>
<rect x="409.43" y="231.70" width="0.945" height="1.30" fill="#f0884e"/>
<rect x="410.37" y="230.39" width="0.945" height="2.61" fill="#1fb2f2"/>
<rect x="411.32" y="230.91" width="0.945" height="2.09" fill="#8fcc6e"/>
<rect x="412.26" y="195.95" width="0.945" height="37.05" fill="#fbc552"/>
<rect x="413.21" y="231.43" width="0.945" height="1.57" fill="#ec5d5d"/>
<rect x="414.15" y="231.43" width="0.945" height="1.57" fill="#73bde0"/>
<rect x="415.10" y="226.74" width="0.945" height="6.26" fill="#3ba56f"/>
<rect x="416.04" y="226.74" width="0.945" height="6.26" fill="#4e6de8"/>
<rect x="416.99" y="205.60" width="0.945" height="27.40" fill="#26e0e0"/>
<rect x="417.93" y="232.62" width="0.945" height="0.38" fill="#a98bea"/>
<rect x="421.95" y="192.82" width="0.945" height="40.18" fill="#4b6ef5"/>
<rect x="422.90" y="192.82" width="0.945" height="40.18" fill="#22dede"/>
<rect x="423.84" y="178.99" width="0.945" height="54.01" fill="#a98bea"/>
<rect x="424.79" y="222.04" width="0.945" height="10.96" fill="#f0884e"/>
<rect x="425.73" y="229.09" width="0.945" height="3.91" fill="#1fb2f2"/>
<rect x="426.68" y="230.39" width="0.945" height="2.61" fill="#8fcc6e"/>
<rect x="427.62" y="194.12" width="0.945" height="38.88" fill="#fbc552"/>
<rect x="428.57" y="231.43" width="0.945" height="1.57" fill="#ec5d5d"/>
<rect x="429.51" y="231.43" width="0.945" height="1.57" fill="#73bde0"/>
<rect x="430.46" y="223.09" width="0.945" height="9.91" fill="#3ba56f"/>
<rect x="431.40" y="223.09" width="0.945" height="9.91" fill="#4e6de8"/>
<rect x="432.35" y="193.86" width="0.945" height="39.14" fill="#26e0e0"/>
<rect x="433.29" y="232.87" width="0.945" height="0.13" fill="#a98bea"/>
<rect x="437.31" y="206.39" width="0.945" height="26.61" fill="#4b6ef5"/>
<rect x="438.25" y="206.39" width="0.945" height="26.61" fill="#22dede"/>
<rect x="439.20" y="182.12" width="0.945" height="50.88" fill="#a98bea"/>
<rect x="440.14" y="224.65" width="0.945" height="8.35" fill="#f0884e"/>
<rect x="441.09" y="229.09" width="0.945" height="3.91" fill="#1fb2f2"/>
<rect x="442.03" y="230.39" width="0.945" height="2.61" fill="#8fcc6e"/>
<rect x="442.98" y="207.43" width="0.945" height="25.57" fill="#fbc552"/>
<rect x="443.92" y="231.43" width="0.945" height="1.57" fill="#ec5d5d"/>
<rect x="444.87" y="231.43" width="0.945" height="1.57" fill="#73bde0"/>
<rect x="445.81" y="216.04" width="0.945" height="16.96" fill="#3ba56f"/>
<rect x="446.76" y="216.04" width="0.945" height="16.96" fill="#4e6de8"/>
<rect x="447.70" y="200.91" width="0.945" height="32.09" fill="#26e0e0"/>
<rect x="448.65" y="232.87" width="0.945" height="0.13" fill="#a98bea"/>
<rect x="452.66" y="206.91" width="0.945" height="26.09" fill="#4b6ef5"/>
<rect x="453.61" y="206.91" width="0.945" height="26.09" fill="#22dede"/>
<rect x="454.55" y="218.39" width="0.945" height="14.61" fill="#a98bea"/>
<rect x="455.50" y="231.70" width="0.945" height="1.30" fill="#f0884e"/>
<rect x="456.44" y="230.39" width="0.945" height="2.61" fill="#1fb2f2"/>
<rect x="457.39" y="231.70" width="0.945" height="1.30" fill="#8fcc6e"/>
<rect x="458.33" y="206.13" width="0.945" height="26.87" fill="#fbc552"/>
<rect x="459.28" y="232.22" width="0.945" height="0.78" fill="#ec5d5d"/>
<rect x="460.22" y="232.22" width="0.945" height="0.78" fill="#73bde0"/>
<rect x="461.17" y="229.61" width="0.945" height="3.39" fill="#3ba56f"/>
<rect x="462.11" y="229.61" width="0.945" height="3.39" fill="#4e6de8"/>
<rect x="463.06" y="219.69" width="0.945" height="13.31" fill="#26e0e0"/>
<rect x="464.00" y="232.87" width="0.945" height="0.13" fill="#a98bea"/>
<rect x="468.02" y="199.08" width="0.945" height="33.92" fill="#4b6ef5"/>
<rect x="468.97" y="199.08" width="0.945" height="33.92" fill="#22dede"/>
<rect x="469.91" y="196.73" width="0.945" height="36.27" fill="#a98bea"/>
<rect x="470.86" y="232.92" width="0.945" height="0.08" fill="#f0884e"/>
<rect x="471.80" y="230.39" width="0.945" height="2.61" fill="#1fb2f2"/>
<rect x="472.75" y="230.39" width="0.945" height="2.61" fill="#8fcc6e"/>
<rect x="473.69" y="200.38" width="0.945" height="32.62" fill="#fbc552"/>
<rect x="474.64" y="231.43" width="0.945" height="1.57" fill="#ec5d5d"/>
<rect x="475.58" y="231.43" width="0.945" height="1.57" fill="#73bde0"/>
<rect x="476.53" y="218.39" width="0.945" height="14.61" fill="#3ba56f"/>
<rect x="477.47" y="218.39" width="0.945" height="14.61" fill="#4e6de8"/>
<rect x="478.42" y="199.60" width="0.945" height="33.40" fill="#26e0e0"/>
<rect x="479.36" y="232.87" width="0.945" height="0.13" fill="#a98bea"/>
<rect x="483.38" y="194.91" width="0.945" height="38.09" fill="#4b6ef5"/>
<rect x="484.32" y="194.91" width="0.945" height="38.09" fill="#22dede"/>
<rect x="485.27" y="196.21" width="0.945" height="36.79" fill="#a98bea"/>
<rect x="486.21" y="230.39" width="0.945" height="2.61" fill="#f0884e"/>
<rect x="487.16" y="229.09" width="0.945" height="3.91" fill="#1fb2f2"/>
<rect x="488.10" y="230.39" width="0.945" height="2.61" fill="#8fcc6e"/>
<rect x="489.05" y="207.95" width="0.945" height="25.05" fill="#fbc552"/>
<rect x="489.99" y="231.43" width="0.945" height="1.57" fill="#ec5d5d"/>
<rect x="490.94" y="231.43" width="0.945" height="1.57" fill="#73bde0"/>
<rect x="491.88" y="213.44" width="0.945" height="19.56" fill="#3ba56f"/>
<rect x="492.83" y="213.44" width="0.945" height="19.56" fill="#4e6de8"/>
<rect x="493.77" y="209.78" width="0.945" height="23.22" fill="#26e0e0"/>
<rect x="494.72" y="232.87" width="0.945" height="0.13" fill="#a98bea"/>
<line x1="67.2" y1="233.0" x2="497.2" y2="233.0" stroke="#6e7079" stroke-width="0.7"/>
<line x1="67.20" y1="233.0" x2="67.20" y2="235.2" stroke="#6e7079" stroke-width="0.7"/>
<line x1="82.56" y1="233.0" x2="82.56" y2="235.2" stroke="#6e7079" stroke-width="0.7"/>
<line x1="97.91" y1="233.0" x2="97.91" y2="235.2" stroke="#6e7079" stroke-width="0.7"/>
<line x1="113.27" y1="233.0" x2="113.27" y2="235.2" stroke="#6e7079" stroke-width="0.7"/>
<line x1="128.63" y1="233.0" x2="128.63" y2="235.2" stroke="#6e7079" stroke-width="0.7"/>
<line x1="143.99" y1="233.0" x2="143.99" y2="235.2" stroke="#6e7079" stroke-width="0.7"/>
<line x1="159.34" y1="233.0" x2="159.34" y2="235.2" stroke="#6e7079" stroke-width="0.7"/>
<line x1="174.70" y1="233.0" x2="174.70" y2="235.2" stroke="#6e7079" stroke-width="0.7"/>
<line x1="190.06" y1="233.0" x2="190.06" y2="235.2" stroke="#6e7079" stroke-width="0.7"/>
<line x1="205.41" y1="233.0" x2="205.41" y2="235.2" stroke="#6e7079" stroke-width="0.7"/>
<line x1="220.77" y1="233.0" x2="220.77" y2="235.2" stroke="#6e7079" stroke-width="0.7"/>
<line x1="236.13" y1="233.0" x2="236.13" y2="235.2" stroke="#6e7079" stroke-width="0.7"/>
<line x1="251.49" y1="233.0" x2="251.49" y2="235.2" stroke="#6e7079" stroke-width="0.7"/>
<line x1="266.84" y1="233.0" x2="266.84" y2="235.2" stroke="#6e7079" stroke-width="0.7"/>
<line x1="282.20" y1="233.0" x2="282.20" y2="235.2" stroke="#6e7079" stroke-width="0.7"/>
<line x1="297.56" y1="233.0" x2="297.56" y2="235.2" stroke="#6e7079" stroke-width="0.7"/>
<line x1="312.91" y1="233.0" x2="312.91" y2="235.2" stroke="#6e7079" stroke-width="0.7"/>
<line x1="328.27" y1="233.0" x2="328.27" y2="235.2" stroke="#6e7079" stroke-width="0.7"/>
<line x1="343.63" y1="233.0" x2="343.63" y2="235.2" stroke="#6e7079" stroke-width="0.7"/>
<line x1="358.99" y1="233.0" x2="358.99" y2="235.2" stroke="#6e7079" stroke-width="0.7"/>
<line x1="374.34" y1="233.0" x2="374.34" y2="235.2" stroke="#6e7079" stroke-width="0.7"/>
<line x1="389.70" y1="233.0" x2="389.70" y2="235.2" stroke="#6e7079" stroke-width="0.7"/>
<line x1="405.06" y1="233.0" x2="405.06" y2="235.2" stroke="#6e7079" stroke-width="0.7"/>
<line x1="420.41" y1="233.0" x2="420.41" y2="235.2" stroke="#6e7079" stroke-width="0.7"/>
<line x1="435.77" y1="233.0" x2="435.77" y2="235.2" stroke="#6e7079" stroke-width="0.7"/>
<line x1="451.13" y1="233.0" x2="451.13" y2="235.2" stroke="#6e7079" stroke-width="0.7"/>
<line x1="466.49" y1="233.0" x2="466.49" y2="235.2" stroke="#6e7079" stroke-width="0.7"/>
<line x1="481.84" y1="233.0" x2="481.84" y2="235.2" stroke="#6e7079" stroke-width="0.7"/>
<line x1="497.20" y1="233.0" x2="497.20" y2="235.2" stroke="#6e7079" stroke-width="0.7"/>
<text transform="translate(74.88,240.5) scale(0.8,1)" font-size="6.6" fill="#555" text-anchor="middle">01</text>
<text transform="translate(90.24,240.5) scale(0.8,1)" font-size="6.6" fill="#555" text-anchor="middle">02</text>
<text transform="translate(105.59,240.5) scale(0.8,1)" font-size="6.6" fill="#555" text-anchor="middle">03</text>
<text transform="translate(120.95,240.5) scale(0.8,1)" font-size="6.6" fill="#555" text-anchor="middle">04</text>
<text transform="translate(136.31,240.5) scale(0.8,1)" font-size="6.6" fill="#555" text-anchor="middle">05</text>
<text transform="translate(151.66,240.5) scale(0.8,1)" font-size="6.6" fill="#555" text-anchor="middle">06</text>
<text transform="translate(167.02,240.5) scale(0.8,1)" font-size="6.6" fill="#555" text-anchor="middle">07</text>
<text transform="translate(182.38,240.5) scale(0.8,1)" font-size="6.6" fill="#555" text-anchor="middle">08</text>
<text transform="translate(197.74,240.5) scale(0.8,1)" font-size="6.6" fill="#555" text-anchor="middle">09</text>
<text transform="translate(213.09,240.5) scale(0.8,1)" font-size="6.6" fill="#555" text-anchor="middle">10</text>
<text transform="translate(228.45,240.5) scale(0.8,1)" font-size="6.6" fill="#555" text-anchor="middle">11</text>
<text transform="translate(243.81,240.5) scale(0.8,1)" font-size="6.6" fill="#555" text-anchor="middle">12</text>
<text transform="translate(259.16,240.5) scale(0.8,1)" font-size="6.6" fill="#555" text-anchor="middle">13</text>
<text transform="translate(274.52,240.5) scale(0.8,1)" font-size="6.6" fill="#555" text-anchor="middle">14</text>
<text transform="translate(289.88,240.5) scale(0.8,1)" font-size="6.6" fill="#555" text-anchor="middle">15</text>
<text transform="translate(305.24,240.5) scale(0.8,1)" font-size="6.6" fill="#555" text-anchor="middle">16</text>
<text transform="translate(320.59,240.5) scale(0.8,1)" font-size="6.6" fill="#555" text-anchor="middle">17</text>
<text transform="translate(335.95,240.5) scale(0.8,1)" font-size="6.6" fill="#555" text-anchor="middle">18</text>
<text transform="translate(351.31,240.5) scale(0.8,1)" font-size="6.6" fill="#555" text-anchor="middle">19</text>
<text transform="translate(366.66,240.5) scale(0.8,1)" font-size="6.6" fill="#555" text-anchor="middle">20</text>
<text transform="translate(382.02,240.5) scale(0.8,1)" font-size="6.6" fill="#555" text-anchor="middle">21</text>
<text transform="translate(397.38,240.5) scale(0.8,1)" font-size="6.6" fill="#555" text-anchor="middle">22</text>
<text transform="translate(412.74,240.5) scale(0.8,1)" font-size="6.6" fill="#555" text-anchor="middle">23</text>
<text transform="translate(428.09,240.5) scale(0.8,1)" font-size="6.6" fill="#555" text-anchor="middle">24</text>
<text transform="translate(443.45,240.5) scale(0.8,1)" font-size="6.6" fill="#555" text-anchor="middle">25</text>
<text transform="translate(458.81,240.5) scale(0.8,1)" font-size="6.6" fill="#555" text-anchor="middle">26</text>
<text transform="translate(474.16,240.5) scale(0.8,1)" font-size="6.6" fill="#555" text-anchor="middle">27</text>
<text transform="translate(489.52,240.5) scale(0.8,1)" font-size="6.6" fill="#555" text-anchor="middle">28</text>
<text transform="translate(63.9,145.30) scale(0.8,1)" font-size="6.9" fill="#555" text-anchor="end">343.4</text>
<text transform="translate(63.9,156.62) scale(0.8,1)" font-size="6.9" fill="#555" text-anchor="end">300</text>
<text transform="translate(63.9,169.67) scale(0.8,1)" font-size="6.9" fill="#555" text-anchor="end">250</text>
<text transform="translate(63.9,182.72) scale(0.8,1)" font-size="6.9" fill="#555" text-anchor="end">200</text>
<text transform="translate(63.9,195.76) scale(0.8,1)" font-size="6.9" fill="#555" text-anchor="end">150</text>
<text transform="translate(63.9,208.81) scale(0.8,1)" font-size="6.9" fill="#555" text-anchor="end">100</text>
<text transform="translate(63.9,221.85) scale(0.8,1)" font-size="6.9" fill="#555" text-anchor="end">50</text>
<text transform="translate(63.9,234.90) scale(0.8,1)" font-size="6.9" fill="#555" text-anchor="end">0</text>
<text x="61" y="136" font-size="5.5" fill="#56617a">kW·h</text>
<path d="M80.67,147.67 A6.12,6.12 0 1 1 91.73,147.67 C90.16,150.98 86.20,152.42 86.20,156.70 C86.20,152.42 82.24,150.98 80.67,147.67Z" fill="#a98bea"/><text transform="translate(86.20,149.00) scale(0.75,1)" font-size="7.2" fill="#222" fill-opacity="0.88" text-anchor="middle">286.17</text>
<path d="M89.77,178.87 A6.12,6.12 0 1 1 100.83,178.87 C99.26,182.18 95.30,183.62 95.30,187.90 C95.30,183.62 91.34,182.18 89.77,178.87Z" fill="#26e0e0"/><text transform="translate(95.30,180.20) scale(0.75,1)" font-size="7.2" fill="#222" fill-opacity="0.88" text-anchor="middle">166.86</text>
<path d="M85.67,219.17 A6.12,6.12 0 1 1 96.73,219.17 C95.16,222.48 91.20,223.92 91.20,228.20 C91.20,223.92 87.24,222.48 85.67,219.17Z" fill="#ec5d5d"/><text transform="translate(91.20,220.50) scale(0.75,1)" font-size="7.2" fill="#222" fill-opacity="0.88" text-anchor="middle">9.38</text>
<path d="M125.67,214.37 A6.12,6.12 0 1 1 136.73,214.37 C135.16,217.68 131.20,219.12 131.20,223.40 C131.20,219.12 127.24,217.68 125.67,214.37Z" fill="#a98bea"/><text transform="translate(131.20,215.70) scale(0.75,1)" font-size="7.2" fill="#222" fill-opacity="0.88" text-anchor="middle">31.3</text>
<path d="M133.52,222.23 A5.40,5.40 0 1 1 143.28,222.23 C141.89,225.16 138.40,226.42 138.40,230.20 C138.40,226.42 134.91,225.16 133.52,222.23Z" fill="#1fb2f2" transform="rotate(-40 138.4 230.20000000000002)"/>
<path d="M134.07,221.73 A5.40,5.40 0 1 1 143.83,221.73 C142.44,224.66 138.95,225.92 138.95,229.70 C138.95,225.92 135.46,224.66 134.07,221.73Z" fill="#8fcc6e" transform="rotate(-40 138.95000000000002 229.70000000000002)"/>
<path d="M134.52,221.28 A5.40,5.40 0 1 1 144.28,221.28 C142.89,224.21 139.40,225.47 139.40,229.25 C139.40,225.47 135.91,224.21 134.52,221.28Z" fill="#f0884e" transform="rotate(-40 139.4 229.25000000000003)"/>
<path d="M135.02,220.83 A5.40,5.40 0 1 1 144.78,220.83 C143.39,223.76 139.90,225.02 139.90,228.80 C139.90,225.02 136.41,223.76 135.02,220.83Z" fill="#ec5d5d" transform="rotate(-40 139.9 228.8)"/>
<path d="M136.02,219.93 A5.40,5.40 0 1 1 145.78,219.93 C144.39,222.86 140.90,224.12 140.90,227.90 C140.90,224.12 137.41,222.86 136.02,219.93Z" fill="#6a55c0" transform="rotate(-40 140.9 227.9)"/>
<text transform="translate(135.3,225) scale(0.75,1)" font-size="7.2" fill="#222" text-anchor="middle">4</text>
<path d="M136.27,214.87 A6.12,6.12 0 1 1 147.33,214.87 C145.76,218.18 141.80,219.62 141.80,223.90 C141.80,219.62 137.84,218.18 136.27,214.87Z" fill="#26e0e0"/><text transform="translate(141.80,216.20) scale(0.75,1)" font-size="7.2" fill="#222" fill-opacity="0.88" text-anchor="middle">27.01</text>
<path d="M136.87,221.67 A6.12,6.12 0 1 1 147.93,221.67 C146.36,224.98 142.40,226.42 142.40,230.70 C142.40,226.42 138.44,224.98 136.87,221.67Z" fill="#a98bea"/><text transform="translate(142.40,223.00) scale(0.75,1)" font-size="7.2" fill="#222" fill-opacity="0.88" text-anchor="middle">5.98</text>
<path d="M234.97,201.57 A6.12,6.12 0 1 1 246.03,201.57 C244.46,204.88 240.50,206.32 240.50,210.60 C240.50,206.32 236.54,204.88 234.97,201.57Z" fill="#f0884e"/><text transform="translate(240.50,202.90) scale(0.75,1)" font-size="7.2" fill="#222" fill-opacity="0.88" text-anchor="middle">81.91</text>
<path d="M240.47,221.87 A6.12,6.12 0 1 1 251.53,221.87 C249.96,225.18 246.00,226.62 246.00,230.90 C246.00,226.62 242.04,225.18 240.47,221.87Z" fill="#73bde0"/><text transform="translate(246.00,223.20) scale(0.75,1)" font-size="7.2" fill="#222" fill-opacity="0.88" text-anchor="middle">1.61</text>
<path d="M255.57,220.47 A6.12,6.12 0 1 1 266.63,220.47 C265.06,223.78 261.10,225.22 261.10,229.50 C261.10,225.22 257.14,223.78 255.57,220.47Z" fill="#73bde0"/><text transform="translate(261.10,221.80) scale(0.75,1)" font-size="7.2" fill="#222" fill-opacity="0.88" text-anchor="middle">7.64</text>
<path d="M267.37,217.67 A6.12,6.12 0 1 1 278.43,217.67 C276.86,220.98 272.90,222.42 272.90,226.70 C272.90,222.42 268.94,220.98 267.37,217.67Z" fill="#1fb2f2"/><text transform="translate(272.90,219.00) scale(0.75,1)" font-size="7.2" fill="#222" fill-opacity="0.88" text-anchor="middle">17.57</text>
<path d="M267.97,206.27 A6.12,6.12 0 1 1 279.03,206.27 C277.46,209.58 273.50,211.02 273.50,215.30 C273.50,211.02 269.54,209.58 267.97,206.27Z" fill="#8fcc6e"/><text transform="translate(273.50,207.60) scale(0.75,1)" font-size="7.2" fill="#222" fill-opacity="0.88" text-anchor="middle">60.07</text>
<path d="M275.87,161.77 A6.12,6.12 0 1 1 286.93,161.77 C285.36,165.08 281.40,166.52 281.40,170.80 C281.40,166.52 277.44,165.08 275.87,161.77Z" fill="#4b6ef5"/>
<path d="M277.17,162.87 A6.12,6.12 0 1 1 288.23,162.87 C286.66,166.18 282.70,167.62 282.70,171.90 C282.70,167.62 278.74,166.18 277.17,162.87Z" fill="#26e0e0"/><text transform="translate(282.70,164.20) scale(0.75,1)" font-size="7.2" fill="#222" fill-opacity="0.88" text-anchor="middle">238.8</text>
<path d="M284.77,163.07 A6.12,6.12 0 1 1 295.83,163.07 C294.26,166.38 290.30,167.82 290.30,172.10 C290.30,167.82 286.34,166.38 284.77,163.07Z" fill="#fbc552"/><text transform="translate(290.30,164.40) scale(0.75,1)" font-size="7.2" fill="#222" fill-opacity="0.88" text-anchor="middle">236.18</text>
<path d="M413.07,221.37 A6.12,6.12 0 1 1 424.13,221.37 C422.56,224.68 418.60,226.12 418.60,230.40 C418.60,226.12 414.64,224.68 413.07,221.37Z" fill="#a98bea"/><text transform="translate(418.60,222.70) scale(0.75,1)" font-size="7.2" fill="#222" fill-opacity="0.88" text-anchor="middle">1.47</text>
<path d="M445.27,197.27 A6.12,6.12 0 1 1 456.33,197.27 C454.76,200.58 450.80,202.02 450.80,206.30 C450.80,202.02 446.84,200.58 445.27,197.27Z" fill="#4b6ef5"/>
<path d="M446.17,197.87 A6.12,6.12 0 1 1 457.23,197.87 C455.66,201.18 451.70,202.62 451.70,206.90 C451.70,202.62 447.74,201.18 446.17,197.87Z" fill="#26e0e0"/><text transform="translate(451.70,199.20) scale(0.75,1)" font-size="7.2" fill="#222" fill-opacity="0.88" text-anchor="middle">99.85</text>
<path d="M453.17,197.87 A6.12,6.12 0 1 1 464.23,197.87 C462.66,201.18 458.70,202.62 458.70,206.90 C458.70,202.62 454.74,201.18 453.17,197.87Z" fill="#fbc552"/><text transform="translate(458.70,199.20) scale(0.75,1)" font-size="7.2" fill="#222" fill-opacity="0.88" text-anchor="middle">103.48</text>
<path d="M465.47,221.67 A6.12,6.12 0 1 1 476.53,221.67 C474.96,224.98 471.00,226.42 471.00,230.70 C471.00,226.42 467.04,224.98 465.47,221.67Z" fill="#f0884e"/><text transform="translate(471.00,223.00) scale(0.75,1)" font-size="7.2" fill="#222" fill-opacity="0.88" text-anchor="middle">0.32</text>
<path d="M487.47,202.47 A6.12,6.12 0 1 1 498.53,202.47 C496.96,205.78 493.00,207.22 493.00,211.50 C493.00,207.22 489.04,205.78 487.47,202.47Z" fill="#3ba56f"/>
<path d="M487.77,202.77 A6.12,6.12 0 1 1 498.83,202.77 C497.26,206.08 493.30,207.52 493.30,211.80 C493.30,207.52 489.34,206.08 487.77,202.77Z" fill="#4e6de8"/><text transform="translate(493.30,204.10) scale(0.75,1)" font-size="7.2" fill="#222" fill-opacity="0.88" text-anchor="middle">74.98</text>
</svg>
<div class="lg" style="left:59.8px;top:98.4px"><i style="background:#4b6ef5"></i><span>微电网研究院</span></div><div class="lg" style="left:102.8px;top:98.4px"><i style="background:#22dede"></i><span>一层用电</span></div><div class="lg" style="left:135.2px;top:98.4px"><i style="background:#a98bea"></i><span>一层空调</span></div><div class="lg" style="left:168.0px;top:98.4px"><i style="background:#f0884e"></i><span>一层东空调</span></div><div class="lg" style="left:205.5px;top:98.4px"><i style="background:#1fb2f2"></i><span>一层西空调</span></div><div class="lg" style="left:242.8px;top:98.4px"><i style="background:#8fcc6e"></i><span>实验室空调</span></div><div class="lg" style="left:280.7px;top:98.4px"><i style="background:#fbc552"></i><span>一层插座</span></div><div class="lg" style="left:313.0px;top:98.4px"><i style="background:#ec5d5d"></i><span>一层东插座</span></div><div class="lg" style="left:351.2px;top:98.4px"><i style="background:#73bde0"></i><span>一层西插座</span></div><div class="lg" style="left:388.8px;top:98.4px"><i style="background:#3ba56f"></i><span>实验室插座</span></div><div class="lg" style="left:426.6px;top:98.4px"><i style="background:#4e6de8"></i><span>行政办公插座</span></div><div class="lg" style="left:469.2px;top:98.4px"><i style="background:#26e0e0"></i><span>一层照明</span></div><div class="lg" style="left:59.8px;top:108.4px"><i style="background:#a98bea"></i><span>一层东照明</span></div>
<!-- toolbox icons -->
<svg class="abs" style="left:465px;top:99px" width="48" height="11" viewBox="465 99 48 11">
<path d="M473.6,103.2 A3.2,3.2 0 1 0 473.4,106.6" fill="none" stroke="#666" stroke-width="0.65"/>
<path d="M467.6,106.2 A3.2,3.2 0 0 1 467.7,102.9" fill="none" stroke="#666" stroke-width="0.65"/>
<path d="M482.2,101.6h3.6v6h-5.2v-4.2" fill="none" stroke="#666" stroke-width="0.65"/><path d="M480.6,101.6h1.6v1.8h-1.6" fill="none" stroke="#666" stroke-width="0.6"/>
<path d="M493.2,101.6h3.6v6h-5.2v-4.2" fill="none" stroke="#666" stroke-width="0.65"/><path d="M491.6,101.6h1.6v1.8h-1.6" fill="none" stroke="#666" stroke-width="0.6"/>
<path d="M505.2,101.3v4.4M503.4,104l1.8,1.8l1.8,-1.8M502.3,105.8v1.8h5.8v-1.8" fill="none" stroke="#666" stroke-width="0.65"/>
</svg>
<!-- paste popup -->
<div class="abs" style="left:612px;top:41.2px;width:34.6px;height:12.5px;background:#fff"></div>
<svg class="abs" style="left:614px;top:42px" width="10" height="11" viewBox="0 0 10 11"><rect x="1.2" y="2" width="5.5" height="7.5" fill="#e9b860"/><rect x="2.6" y="1.2" width="2.8" height="1.5" fill="#666"/><path d="M5,5h3l1,1v4.5h-4z" fill="#fff" stroke="#777" stroke-width="0.5"/></svg>
<div class="abs" style="left:624px;top:42px;font-size:7.2px;line-height:11.5px;color:#4e5872;white-space:nowrap">(Ctrl)</div>
<div class="abs" style="left:642.2px;top:47px;width:0;height:0;border-left:2px solid transparent;border-right:2px solid transparent;border-top:2.2px solid #333"></div>
<!-- edges -->
<div class="abs" style="left:0;top:0;width:648px;height:1px;background:#a3a5a5"></div>
<div class="abs" style="left:0;top:1px;width:648px;height:1px;background:#757575"></div>
<div class="abs" style="left:647px;top:0;width:1px;height:411px;background:#e8e8e8"></div>
<div class="abs" style="left:0;top:409px;width:648px;height:1px;background:#9aa0a0"></div>
<div class="abs" style="left:0;top:410px;width:648px;height:1px;background:#000"></div>
</body></html>
